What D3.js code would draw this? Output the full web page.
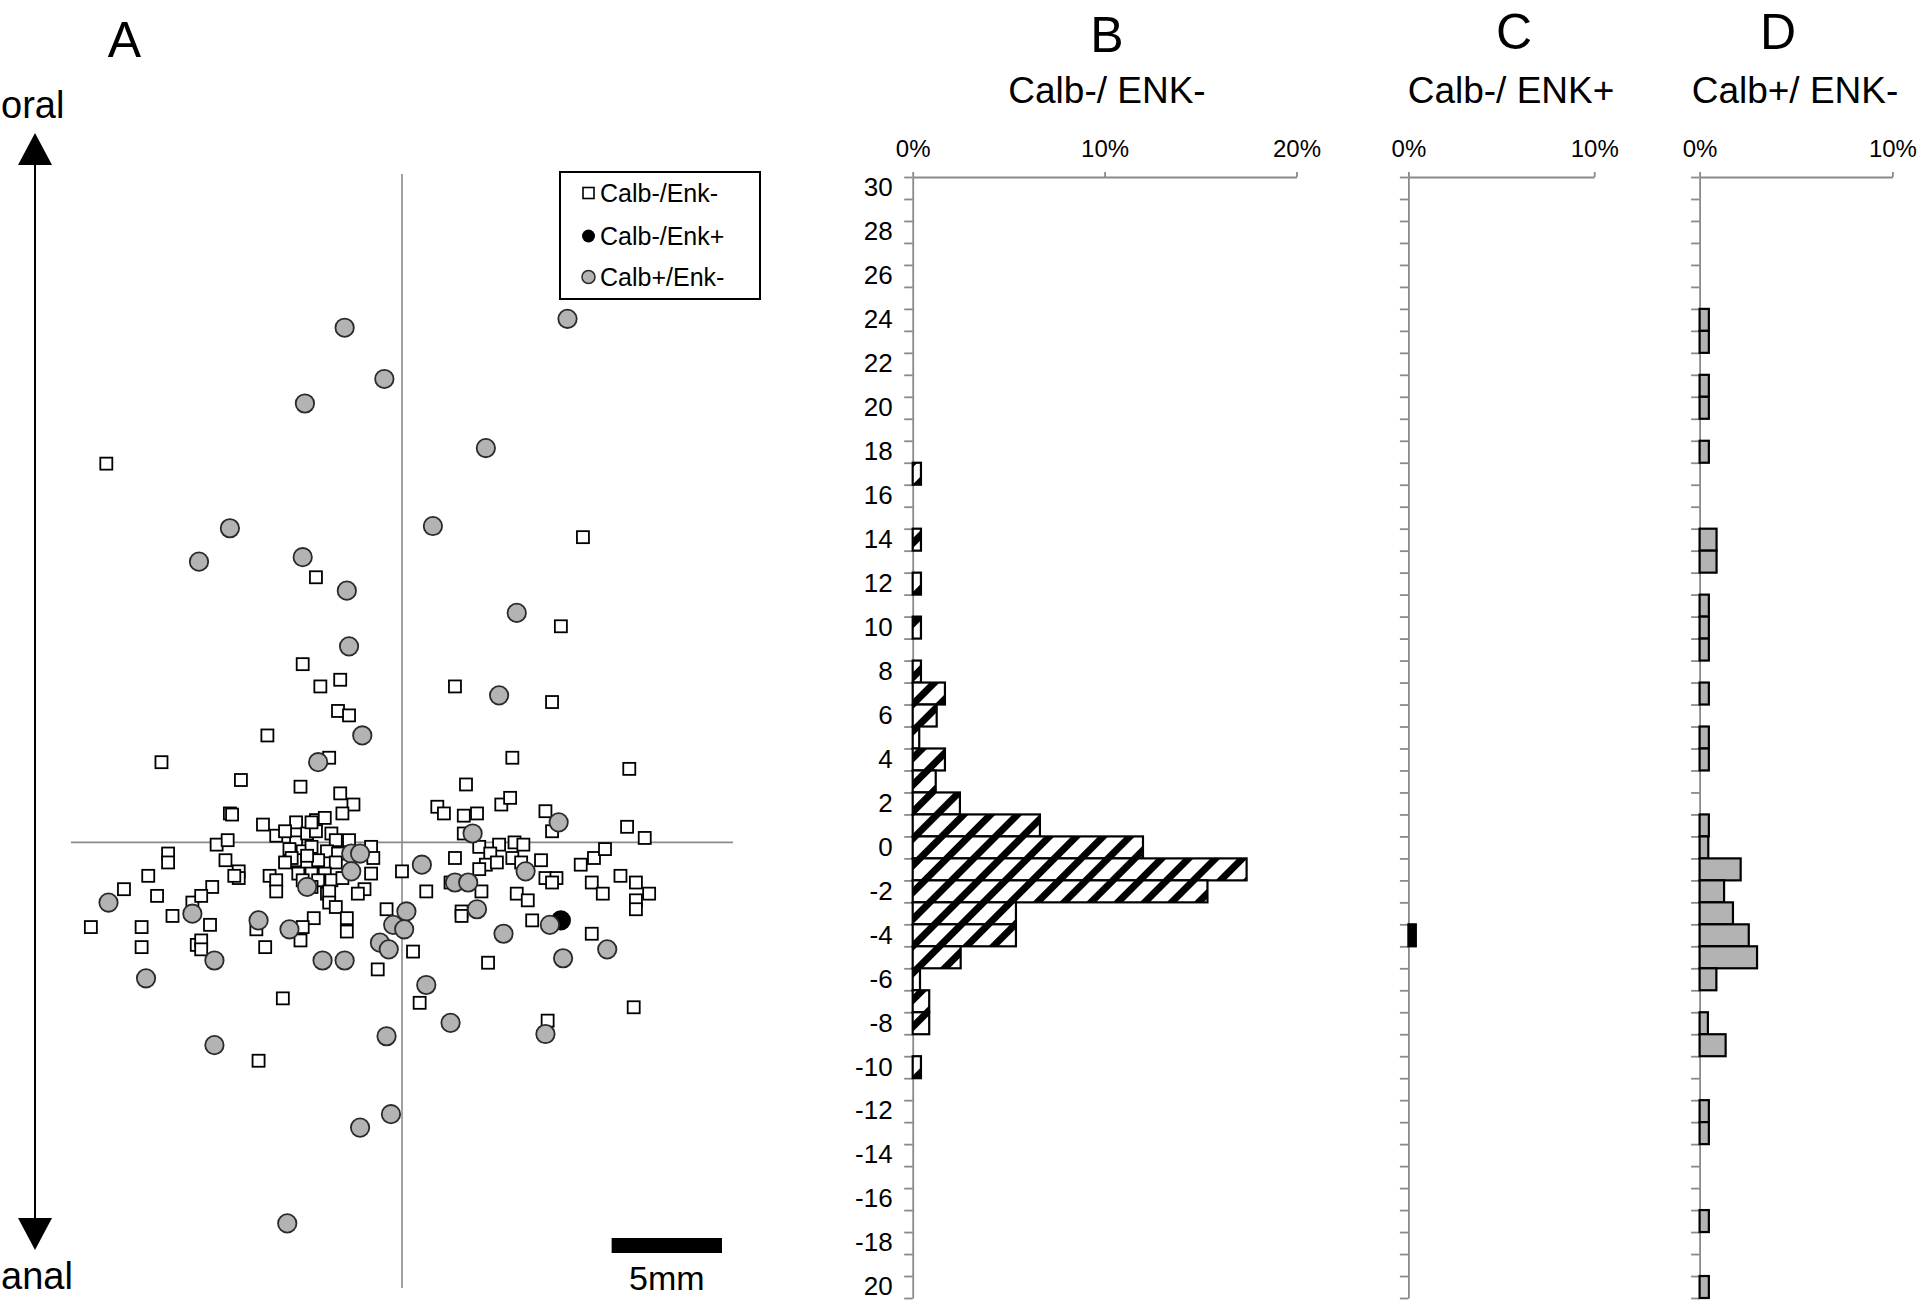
<!DOCTYPE html>
<html><head><meta charset="utf-8">
<script src="https://cdn.jsdelivr.net/npm/d3@7"></script>
<style>
html,body{margin:0;padding:0;background:#fff;}
svg{display:block;}
text{font-family:"Liberation Sans",Arial,Helvetica,sans-serif;fill:#000;}
</style>
</head><body>
<svg id="chart" width="1920" height="1302"></svg>
<script>
// ---------------- DATA ----------------
// Histogram bins (mm, oral positive)
const bins = [30,29,28,27,26,25,24,23,22,21,20,19,18,17,16,15,14,13,12,11,10,9,8,7,6,5,4,3,2,1,0,
  -1,-2,-3,-4,-5,-6,-7,-8,-9,-10,-11,-12,-13,-14,-15,-16,-17,-18,-19,-20];
const yTickBins   = [30,28,26,24,22,20,18,16,14,12,10,8,6,4,2,0,-2,-4,-6,-8,-10,-12,-14,-16,-18,-20];
const yTickLabels = ["30","28","26","24","22","20","18","16","14","12","10","8","6","4","2","0",
  "-2","-4","-6","-8","-10","-12","-14","-16","-18","20"];

// % of cells per bin
const calbNegEnkNeg = [0,0,0,0,0,0,0,0,0,0,0,0,0,0.43,0,0,0.43,0,0.43,0,0.43,0,0.43,1.68,1.25,0.34,1.68,1.2,2.46,6.63,12.0,
  17.4,15.36,5.38,5.38,2.5,0.38,0.86,0.86,0,0.43,0,0,0,0,0,0,0,0,0,0];
const calbNegEnkPos = [0,0,0,0,0,0,0,0,0,0,0,0,0,0,0,0,0,0,0,0,0,0,0,0,0,0,0,0,0,0,0,
  0,0,0,0.4,0,0,0,0,0,0,0,0,0,0,0,0,0,0,0,0];
const calbPosEnkNeg = [0,0,0,0,0,0,0.48,0.48,0,0.48,0.48,0,0.48,0,0,0,0.88,0.88,0,0.48,0.48,0.48,0,0.48,0,0.48,0.48,0,0,0.48,0.45,
  2.13,1.27,1.73,2.55,2.98,0.87,0,0.43,1.35,0,0,0.48,0.48,0,0,0,0.48,0,0,0.48];

const ticksB = [0,10,20];
const ticksCD = [0,10];

// Scatter (mm from centre; x: lateral, y: oral +)
const ptsCalbNegEnkNeg = [
 [-13.4,17.0],[8.2,13.7],[-3.9,11.9],[7.2,9.7],[-4.5,8.0],[-3.7,7.0],[-2.8,7.3],[2.4,7.0],[6.8,6.3],
 [-2.9,5.9],[-2.4,5.7],[-6.1,4.8],[-10.9,3.6],[-3.3,3.8],[5.0,3.8],[10.3,3.3],[-7.3,2.8],
 [-4.6,2.5],[-2.8,2.2],[-2.2,1.7],[-7.8,1.3],[-7.7,1.25],[-4.8,0.9],[-3.9,1.0],[-3.5,1.1],[-2.7,1.3],
 [-6.3,0.8],[-5.7,0.3],[-8.4,-0.1],[-7.9,0.1],[-10.6,-0.5],[-10.6,-0.9],[-8.0,-0.8],[-11.5,-1.5],
 [-12.6,-2.1],[-11.1,-2.4],[-8.6,-2.0],[-7.4,-1.3],[-7.4,-1.6],[-7.6,-1.5],[-6.0,-1.5],[-5.7,-1.7],
 [-5.7,-2.2],[-4.8,0.0],[-4.3,0.4],[-3.9,0.5],[-3.2,0.4],[-3.0,0.1],[-5.1,-0.3],[-4.5,-0.4],
 [-4.1,-0.2],[-3.4,-0.4],[-2.9,-0.5],[-4.8,-0.8],[-4.3,-0.9],[-3.8,-0.8],[-3.0,-0.9],[-4.1,-1.4],
 [-3.5,-1.4],[-3.2,-1.7],[-3.8,-1.7],[-1.4,-0.2],[-1.3,-0.7],[-1.4,-1.4],[-1.7,-2.1],[-2.0,-2.3],
 [-3.4,-2.3],[0.0,-1.3],[-4.7,-1.4],[-4.1,0.9],[-5.0,-0.7],[-4.3,-0.6],[-4.5,-1.7],[-2.7,-1.6],
 [-4.1,-2.0],[-3.3,-2.2],[-5.3,-0.9],[-2.4,0.1],[-5.3,0.5],
 [2.9,2.6],[1.6,1.6],[1.9,1.3],[4.5,1.7],[4.9,2.0],[2.8,1.2],[3.4,1.3],[6.5,1.4],[6.8,0.5],
 [2.8,0.4],[3.5,-0.2],[4.4,-0.1],[5.1,0.0],[5.5,-0.1],[2.4,-0.7],[4.0,-0.5],[3.8,-1.0],[4.3,-0.9],
 [3.5,-1.2],[5.0,-0.7],[5.4,-0.9],[6.3,-0.8],[6.5,-1.6],[7.0,-1.6],[6.8,-1.8],[8.1,-1.0],[8.7,-0.7],
 [9.2,-0.3],[10.2,0.7],[11.0,0.2],[8.6,-1.8],[9.1,-2.3],[9.9,-1.5],[10.6,-1.8],[11.2,-2.3],
 [1.1,-2.2],[3.6,-2.2],[5.2,-2.3],[2.2,-1.8],
 [-9.5,-2.7],[-9.1,-2.4],[-10.4,-3.3],[-14.1,-3.8],[-11.8,-3.8],[-11.8,-4.7],[-8.7,-3.7],[-9.3,-4.6],
 [-9.1,-4.4],[-9.1,-4.8],[-6.6,-3.9],[-6.2,-4.7],[-4.0,-3.4],[-4.5,-3.8],[-4.6,-4.4],[-3.3,-2.7],
 [-3.0,-2.9],[-2.5,-3.4],[-2.5,-4.0],[-0.7,-3.0],[-1.1,-5.7],[-5.4,-7.0],[-6.5,-9.8],
 [5.7,-2.6],[2.7,-3.1],[2.7,-3.3],[5.9,-3.5],[10.6,-2.6],[10.6,-3.0],[8.6,-4.1],[0.5,-4.9],
 [3.9,-5.4],[0.8,-7.2],[10.5,-7.4],[6.6,-8.0]
];
const ptsCalbNegEnkPos = [[7.2,-3.5]];
const ptsCalbPosEnkNeg = [
 [7.5,23.5],[-2.6,23.1],[-0.8,20.8],[-4.4,19.7],[3.8,17.7],[-7.8,14.1],[1.4,14.2],[-9.2,12.6],
 [-4.5,12.8],[-2.5,11.3],[5.2,10.3],[-2.4,8.8],[4.4,6.6],[-1.8,4.8],[-3.8,3.6],[7.1,0.9],[3.2,0.4],
 [-2.3,-0.5],[-1.9,-0.5],[-2.3,-1.3],[-4.3,-2.0],[-13.3,-2.7],[0.9,-1.0],[5.6,-1.3],[2.4,-1.8],
 [3.0,-1.8],[-9.5,-3.2],[-6.5,-3.5],[-5.1,-3.9],[-8.5,-5.3],[-3.6,-5.3],[-2.6,-5.3],[-1.0,-4.5],
 [-0.6,-4.8],[-0.4,-3.7],[0.2,-3.1],[-11.6,-6.1],[0.1,-3.9],[3.4,-3.0],[4.6,-4.1],[6.7,-3.7],
 [7.3,-5.2],[9.3,-4.8],[1.1,-6.4],[-8.5,-9.1],[-0.7,-8.7],[2.2,-8.1],[6.5,-8.6],[-0.5,-12.2],
 [-1.9,-12.8],[-5.2,-17.1]
];
const legendLabels = ["Calb-/Enk-","Calb-/Enk+","Calb+/Enk-"];
const panelTitles = ["Calb-/ ENK-","Calb-/ ENK+","Calb+/ ENK-"];

// ---------------- DRAW ----------------
const svg = d3.select("#chart");
const GRAY_AX = "#8a8a8a";

// pattern for hatched bars
const defs = svg.append("defs");
const pat = defs.append("pattern").attr("id","hatch").attr("patternUnits","userSpaceOnUse")
  .attr("width",19).attr("height",19).attr("patternTransform","rotate(45)");
pat.append("rect").attr("width",19).attr("height",19).attr("fill","#fff");
pat.append("rect").attr("width",7).attr("height",19).attr("fill","#000");

// ---- Panel letters & titles
const big = [["A",124.5,57],["B",1107,52],["C",1514,49],["D",1778,49]];
svg.selectAll("text.letter").data(big).join("text").attr("class","letter")
  .attr("x",d=>d[1]).attr("y",d=>d[2]).attr("text-anchor","middle")
  .style("font-size","50px").text(d=>d[0]);

// ---- Histogram panels
const yTop = 177, yBot = 1298;
const yBand = d3.scaleBand().domain(bins).range([yTop,yBot]).paddingInner(0).paddingOuter(0);
const yIdx = d3.scaleLinear().domain([0,bins.length]).range([yTop,yBot]);

function histPanel(opt){
  const g = svg.append("g");
  const x = d3.scaleLinear().domain([0,opt.max]).range([opt.x0,opt.x1]);
  // boundary ticks + left axis line
  const ay = g.append("g").attr("transform",`translate(${opt.x0},0)`)
    .call(d3.axisLeft(yIdx).tickValues(d3.range(0,bins.length+1)).tickSize(8.5).tickSizeOuter(0).tickFormat(""));
  ay.select(".domain").attr("stroke",GRAY_AX).attr("stroke-width",1.8);
  ay.selectAll(".tick line").attr("stroke",GRAY_AX).attr("stroke-width",1.8);
  // top axis
  const ax = g.append("g").attr("transform",`translate(0,${yTop})`)
    .call(d3.axisTop(x).tickValues(opt.ticks).tickSize(5).tickSizeOuter(0).tickPadding(15).tickFormat(d=>d+"%"));
  ax.select(".domain").attr("stroke",GRAY_AX).attr("stroke-width",1.8);
  ax.selectAll(".tick line").attr("stroke",GRAY_AX).attr("stroke-width",1.8);
  ax.selectAll(".tick text").attr("fill","#000").style("font-size","24px")
    .style("font-family",'"Liberation Sans",Arial,sans-serif');
  // category labels
  if(opt.labels){
    const al = g.append("g").attr("transform",`translate(${opt.x0-20},0)`)
      .call(d3.axisLeft(yBand).tickValues(yTickBins).tickSize(0).tickPadding(0)
        .tickFormat(d=>yTickLabels[yTickBins.indexOf(d)]));
    al.select(".domain").remove();
    al.selectAll(".tick text").attr("fill","#000").style("font-size","26px")
      .style("font-family",'"Liberation Sans",Arial,sans-serif');
  }
  // bars
  const data = bins.map((b,i)=>({b, v:opt.values[i]})).filter(d=>d.v>0);
  g.append("g").selectAll("rect").data(data).join("rect")
    .attr("x",x(0)).attr("y",d=>yBand(d.b))
    .attr("width",d=>x(d.v)-x(0)).attr("height",yBand.bandwidth())
    .attr("fill",opt.fill).attr("stroke","#000").attr("stroke-width",2.2);
  // title
  g.append("text").attr("x",opt.tx).attr("y",103).attr("text-anchor","middle")
    .style("font-size","37px").text(opt.title);
}
histPanel({x0:912.7,x1:1296.5,max:20,ticks:ticksB,values:calbNegEnkNeg,fill:"url(#hatch)",labels:true,tx:1107,title:panelTitles[0]});
histPanel({x0:1408.4,x1:1594.2,max:10,ticks:ticksCD,values:calbNegEnkPos,fill:"#000",labels:false,tx:1511,title:panelTitles[1]});
histPanel({x0:1699.6,x1:1892.4,max:10,ticks:ticksCD,values:calbPosEnkNeg,fill:"#b3b3b3",labels:false,tx:1795,title:panelTitles[2]});

// ---- Panel A scatter
const xA = d3.scaleLinear().domain([-15,15]).range([71,733]);
const yA = d3.scaleLinear().domain([-20,30]).range([1288,174]);
const gA = svg.append("g");
gA.append("line").attr("x1",xA(0)).attr("x2",xA(0)).attr("y1",yA(30)).attr("y2",yA(-20))
  .attr("stroke",GRAY_AX).attr("stroke-width",1.6);
gA.append("line").attr("x1",xA(-15)).attr("x2",xA(15)).attr("y1",yA(0)).attr("y2",yA(0))
  .attr("stroke",GRAY_AX).attr("stroke-width",1.6);

const sq = 12;
gA.append("g").selectAll("rect").data(ptsCalbNegEnkNeg).join("rect")
  .attr("x",d=>xA(d[0])-sq/2).attr("y",d=>yA(d[1])-sq/2).attr("width",sq).attr("height",sq)
  .attr("fill","#fff").attr("stroke","#000").attr("stroke-width",1.8);
gA.append("g").selectAll("circle").data(ptsCalbNegEnkPos).join("circle")
  .attr("cx",d=>xA(d[0])).attr("cy",d=>yA(d[1])).attr("r",9.2)
  .attr("fill","#000").attr("stroke","#000").attr("stroke-width",1.8);
gA.append("g").selectAll("circle").data(ptsCalbPosEnkNeg).join("circle")
  .attr("cx",d=>xA(d[0])).attr("cy",d=>yA(d[1])).attr("r",9.2)
  .attr("fill","#b3b3b3").attr("stroke","#2a2a2a").attr("stroke-width",1.8);

// oral / anal arrow
const arrX = 35;
svg.append("line").attr("x1",arrX).attr("x2",arrX).attr("y1",160).attr("y2",1222)
  .attr("stroke","#000").attr("stroke-width",2);
svg.append("path").attr("d",`M${arrX},133 L${arrX-17},165 L${arrX+17},165 Z`).attr("fill","#000");
svg.append("path").attr("d",`M${arrX},1250 L${arrX-17},1218 L${arrX+17},1218 Z`).attr("fill","#000");
svg.append("text").attr("x",1).attr("y",118).style("font-size","38px").text("oral");
svg.append("text").attr("x",1).attr("y",1289).style("font-size","38px").text("anal");

// legend
const lg = svg.append("g");
lg.append("rect").attr("x",560).attr("y",172).attr("width",200).attr("height",127)
  .attr("fill","#fff").attr("stroke","#000").attr("stroke-width",2);
const ly = [193,236,277];
lg.append("rect").attr("x",583).attr("y",ly[0]-5.5).attr("width",11).attr("height",11)
  .attr("fill","#fff").attr("stroke","#000").attr("stroke-width",1.6);
lg.append("circle").attr("cx",588.5).attr("cy",ly[1]).attr("r",6.5).attr("fill","#000");
lg.append("circle").attr("cx",588.5).attr("cy",ly[2]).attr("r",6.5).attr("fill","#b3b3b3")
  .attr("stroke","#2a2a2a").attr("stroke-width",1.5);
lg.selectAll("text").data(legendLabels).join("text")
  .attr("x",600).attr("y",(d,i)=>ly[i]+9).style("font-size","25px").text(d=>d);

// scale bar
svg.append("rect").attr("x",xA(9.5)).attr("y",1238).attr("width",xA(14.5)-xA(9.5)).attr("height",15).attr("fill","#000");
svg.append("text").attr("x",(xA(9.5)+xA(14.5))/2).attr("y",1290).attr("text-anchor","middle")
  .style("font-size","34px").text("5mm");
</script>
</body></html>
